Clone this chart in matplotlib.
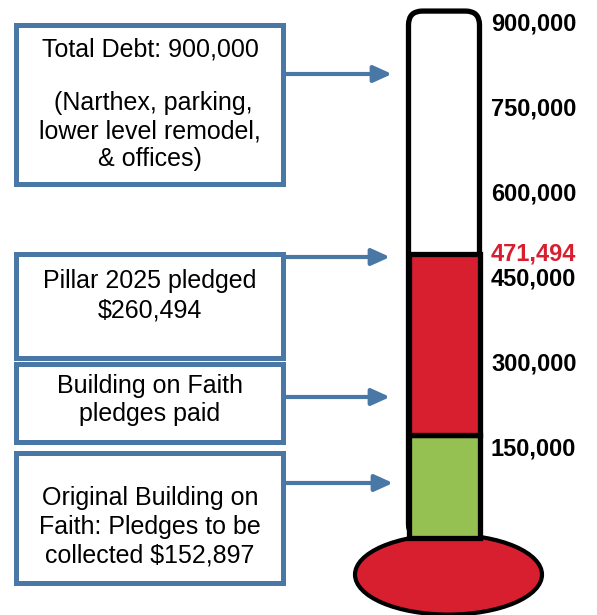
import matplotlib
matplotlib.use("Agg")
import matplotlib.pyplot as plt
from matplotlib.patches import Rectangle, FancyBboxPatch, Ellipse

plt.rcParams['font.family'] = ['Liberation Sans', 'DejaVu Sans']

# data
goal = 900000
collected_top = 152897      # original pledges to be collected (green)
raised_total = 471494       # total so far (red top)
scale_ticks = [150000, 300000, 450000, 600000, 750000, 900000]

box_texts = [
    ["Total Debt: 900,000", " (Narthex, parking,\nlower level remodel,\n& offices)"],
    ["Pillar 2025 pledged\n$260,494"],
    ["Building on Faith\npledges paid"],
    ["Original Building on\nFaith: Pledges to be\ncollected $152,897"],
]

red = "#D71F30"
green = "#95C153"
blue = "#4A78A6"

W, H = 597, 615
fig = plt.figure(figsize=(W / 100, H / 100), dpi=100)

# thermometer axes: x in pixels, y in dollars
ax = fig.add_axes([0, 0, 1, 1])
ax.set_xlim(0, W)
ax.set_ylim(-164200, 919500)
ax.axis('off')
units_per_px = (919500 + 164200) / H

tube_x0, tube_x1 = 408.5, 479.5
tube_base = -28500

bulb = Ellipse((448.5, -93000), 187, 80 * units_per_px, facecolor=red,
               edgecolor='black', lw=3, zorder=1)
ax.add_patch(bulb)

tube = FancyBboxPatch((tube_x0, tube_base), tube_x1 - tube_x0, goal - tube_base,
                      boxstyle="round,pad=0,rounding_size=14",
                      mutation_aspect=units_per_px,
                      facecolor='white', edgecolor='black', lw=3.8, zorder=2)
ax.add_patch(tube)

ax.add_patch(Rectangle((tube_x0, tube_base), tube_x1 - tube_x0, collected_top - tube_base,
                       facecolor=green, edgecolor='black', lw=3.8, zorder=3))
ax.add_patch(Rectangle((tube_x0, collected_top), tube_x1 - tube_x0, raised_total - collected_top,
                       facecolor=red, edgecolor='black', lw=3.8, zorder=3))

for v in scale_ticks:
    ax.annotate(f"{v:,}", (491, v), xytext=(0, -9), textcoords='offset points',
                ha='left', va='center', fontsize=17, fontweight='bold')
ax.text(491, raised_total, f"{raised_total:,}", ha='left', va='center',
        fontsize=17, fontweight='bold', color=red)

# left annotation boxes, pixel layout
lay = fig.add_axes([0, 0, 1, 1])
lay.set_xlim(0, W)
lay.set_ylim(H, 0)
lay.axis('off')
lay.patch.set_alpha(0)

boxes = [(25, 184), (254, 358), (364, 442), (453, 583)]
for top, bot in boxes:
    lay.add_patch(Rectangle((16, top), 267, bot - top, facecolor='white',
                            edgecolor=blue, lw=3.6))

lay.text(150, 49, box_texts[0][0], ha='center', va='center', fontsize=18)
lay.text(150, 131, box_texts[0][1], ha='center', va='center', fontsize=18, linespacing=1.22)
lay.text(150, 296, box_texts[1][0], ha='center', va='center', fontsize=18, linespacing=1.3)
lay.text(150, 400, box_texts[2][0], ha='center', va='center', fontsize=18, linespacing=1.25)
lay.text(150, 527, box_texts[3][0], ha='center', va='center', fontsize=18, linespacing=1.25)

for y, x_end in [(74, 392), (257, 390), (397, 390), (483, 393)]:
    lay.annotate("", xy=(x_end, y), xytext=(285, y),
                 arrowprops=dict(arrowstyle="-|>,head_length=1.1,head_width=0.5",
                                 lw=3, color=blue, shrinkA=0, shrinkB=0,
                                 mutation_scale=10))

fig.savefig("out.png", dpi=100)
